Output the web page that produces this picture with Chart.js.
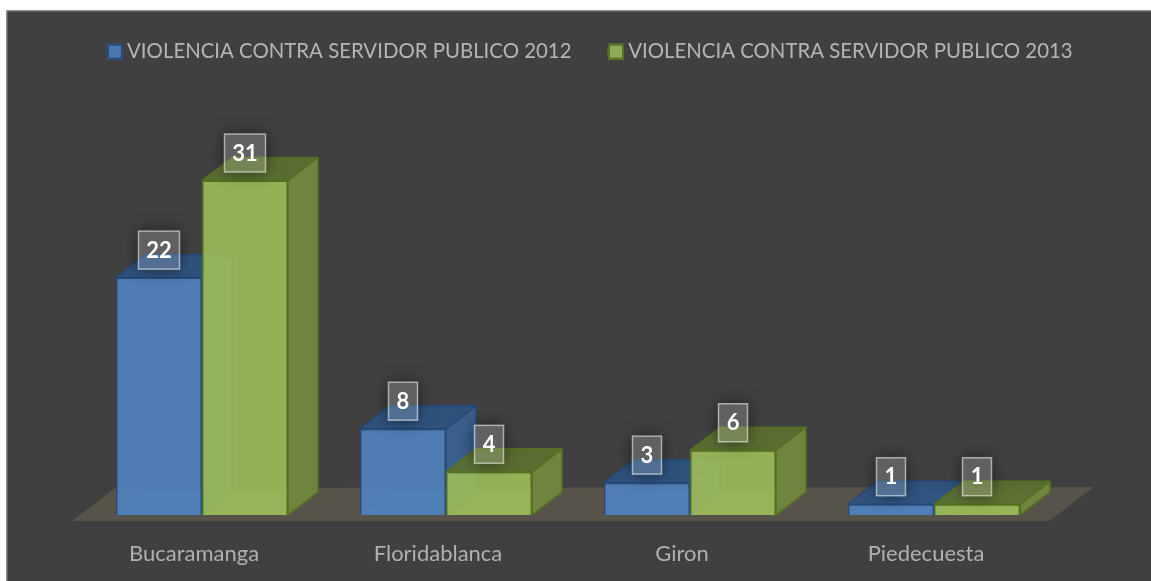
<!DOCTYPE html>
<html><head><meta charset="utf-8">
<style>html,body{margin:0;padding:0;background:#fff}#w{width:1151px;height:581px}</style>
<script src="https://cdn.jsdelivr.net/npm/chart.js@4"></script>
</head><body><div id="w"><canvas id="c"></canvas></div>
<script>
const categories = ["Bucaramanga","Floridablanca","Giron","Piedecuesta"];
const series2012 = [22,8,3,1];
const series2013 = [31,4,6,1];
const name2012 = "VIOLENCIA CONTRA SERVIDOR PUBLICO 2012";
const name2013 = "VIOLENCIA CONTRA SERVIDOR PUBLICO 2013";
const FONT = "Lato";
const DX = 30, DY = 23;
const styles = [
 {front:"rgba(79,129,189,0.92)",border:"#26497a",side:"#3a5f8c",top:"rgba(46,84,130,0.92)",inner:"rgba(70,125,190,0.4)",solid:"#4b77ad"},
 {front:"rgba(155,187,89,0.92)",border:"#55701f",side:"#6f843f",top:"rgba(92,113,48,0.92)",inner:"rgba(140,175,80,0.3)",solid:"#8faa58"}
];
function poly(ctx,pts,fill,stroke,lw){
  ctx.beginPath();pts.forEach((p,i)=>i?ctx.lineTo(p[0],p[1]):ctx.moveTo(p[0],p[1]));ctx.closePath();
  if(fill){ctx.fillStyle=fill;ctx.fill();}
  if(stroke){ctx.strokeStyle=stroke;ctx.lineWidth=lw||1.5;ctx.lineJoin="round";ctx.stroke();}
}
const scene = {
  id:"scene",
  afterLayout(chart){
    const l=chart.legend; l.left+=14.25; l.right+=14.25; l.top-=11.5; l.bottom-=11.5;
  },
  beforeDraw(chart){
    const {ctx,chartArea:a,scales:{y}}=chart;
    ctx.save();
    ctx.fillStyle="#404040";ctx.fillRect(7,11,1200,600);
    ctx.strokeStyle="#6e6e6e";ctx.lineWidth=1.5;ctx.strokeRect(7,11,1200,600);
    const b=y.getPixelForValue(0);
    poly(ctx,[[a.left-8,b+6],[a.left+35,b-27],[a.right+38,b-28],[a.right-7,b+6]],"#57534a");
    ctx.restore();
  },
  beforeDatasetsDraw(chart){
    const ctx=chart.ctx;
    chart.data.datasets.forEach((ds,i)=>{
      const st=styles[i],meta=chart.getDatasetMeta(i);
      ctx.save();
      meta.data.forEach(bar=>{
        const l=bar.x-bar.width/2,r=bar.x+bar.width/2,t=bar.y,b=bar.base;
        poly(ctx,[[l,b],[r,b],[r+DX,b-DY],[l+DX,b-DY]],st.inner);
        poly(ctx,[[r,t],[r+DX,t-DY],[r+DX,b-DY],[r,b]],st.side,st.border);
        poly(ctx,[[l,t],[l+DX,t-DY],[r+DX,t-DY],[r,t]],st.top,st.border);
      });
      meta.data.forEach(bar=>bar.draw(ctx,chart.chartArea));
      ctx.strokeStyle=st.inner;ctx.lineWidth=1.2;
      meta.data.forEach(bar=>{
        const l=bar.x-bar.width/2,r=bar.x+bar.width/2,t=bar.y,b=bar.base;
        if(b-t<DY) return;
        ctx.beginPath();ctx.moveTo(l,b);ctx.lineTo(l+DX,b-DY);ctx.lineTo(r,b-DY);
        ctx.moveTo(l+DX,b-DY);ctx.lineTo(l+DX,t);ctx.stroke();
      });
      ctx.restore();
    });
  },
  beforeDatasetDraw(){ return false; },
  afterDraw(chart){
    const ctx=chart.ctx;
    const lg=chart.legend;
    ctx.save();
    lg.legendHitBoxes.forEach((h,i)=>{
      const x=h.left,yc=h.top+h.height/2;
      ctx.fillStyle=styles[i].solid;ctx.strokeStyle=styles[i].border;ctx.lineWidth=2;
      ctx.fillRect(x,yc-8,16,16);ctx.strokeRect(x+1,yc-7,14,14);
    });
    chart.data.datasets.forEach((ds,i)=>{
      chart.getDatasetMeta(i).data.forEach((bar,j)=>{
        const txt=String(ds.data[j]);
        const w=txt.length>1?41:29,h=38,x=bar.x-w/2,y=bar.y-27.5-h/2;
        ctx.save();
        ctx.beginPath();ctx.rect(0,0,1151,581);ctx.rect(x,y,w,h);ctx.clip("evenodd");
        ctx.shadowColor="rgba(0,0,0,0.55)";ctx.shadowBlur=16;ctx.fillStyle="rgba(0,0,0,1)";
        ctx.shadowOffsetX=2000;ctx.fillRect(x-2000,y,w,h);
        ctx.restore();
        ctx.fillStyle="rgba(255,255,255,0.17)";ctx.fillRect(x,y,w,h);
        ctx.strokeStyle="rgba(255,255,255,0.55)";ctx.lineWidth=1.5;ctx.strokeRect(x,y,w,h);
        ctx.fillStyle="#fff";ctx.font="bold 22px "+FONT;ctx.textAlign="center";ctx.textBaseline="middle";
        ctx.fillText(txt,bar.x,bar.y-27);
      });
    });
    ctx.restore();
  }
};
const hiddenAxis = (position,width)=>({position,min:0,max:40,grid:{display:false},border:{display:false},ticks:{display:false},afterFit:s=>{s.width=width;}});
new Chart(document.getElementById("c"),{
  type:"bar",
  data:{labels:categories,datasets:[
    {label:name2012,data:series2012,backgroundColor:styles[0].front,borderColor:styles[0].border,borderWidth:1.5,barPercentage:1,categoryPercentage:0.705},
    {label:name2013,data:series2013,backgroundColor:styles[1].front,borderColor:styles[1].border,borderWidth:1.5,barPercentage:1,categoryPercentage:0.705}
  ]},
  options:{
    responsive:true,maintainAspectRatio:false,animation:false,
    layout:{padding:{left:0,right:0,top:16.5,bottom:0}},
    plugins:{tooltip:{enabled:false},
      legend:{position:"top",align:"center",onClick:null,
        labels:{boxWidth:10,boxHeight:8,padding:36.5,color:"#b5b5b5",font:{family:FONT,size:20.4}}}},
    scales:{
      x:{grid:{display:false},border:{display:false},afterFit:s=>{s.height=66;},
        ticks:{color:"#b0b0b0",font:{family:FONT,size:22},padding:18,labelOffset:-8,maxRotation:0}},
      y:hiddenAxis("left",80),
      y2:hiddenAxis("right",95)
    }
  },
  plugins:[scene]
});
</script></body></html>
